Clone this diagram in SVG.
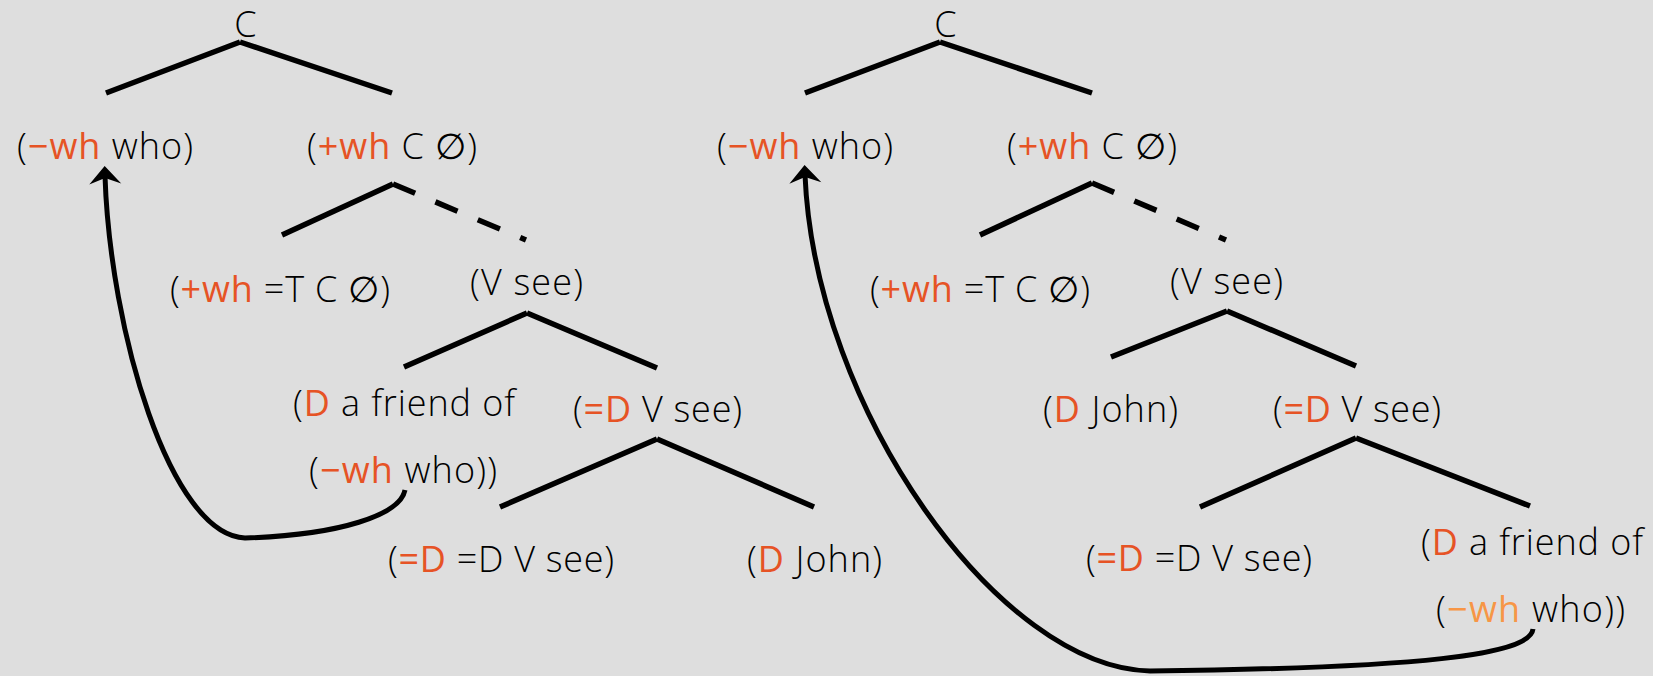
<svg xmlns="http://www.w3.org/2000/svg" width="1653" height="676" viewBox="0 0 1653 676">
<style>
text{font-family:"Open Sans","Liberation Sans",sans-serif;font-size:36px;font-weight:300;fill:#000;text-anchor:middle}
.o{fill:#E65325;font-weight:400}
.o2{fill:#F79646;font-weight:400}
.br{stroke:#000;stroke-width:5.5;fill:none;stroke-linecap:butt}
.dash{stroke-dasharray:24 22}
.arr{stroke:#000;stroke-width:5;fill:none;marker-end:url(#ah)}
</style>
<defs>
<marker id="ah" markerUnits="userSpaceOnUse" viewBox="-10 -17 22 34" refX="0" refY="0" markerWidth="22" markerHeight="34" orient="auto">
<path d="M10,0 L-8,-16 L-2,0 L-8,16 Z" fill="#000"/>
</marker>
</defs>
<rect width="1653" height="676" fill="#DEDEDE"/>
<g id="connectors">
<path class="br" d="M240,42 L106,93 M240,42 L392,93"/>
<path class="br" d="M393,184 L282,235"/>
<path class="br dash" d="M393,184 L526,240"/>
<path class="br" d="M527,313 L404,367 M527,313 L657,368"/>
<path class="br" d="M657,439 L500,507 M657,439 L814,507"/>
<path class="arr" d="M405,490 C400,515 340,535 245,538 C170,535 110,330 105,176"/>
<path class="br" d="M940,42 L805,93 M940,42 L1092,93"/>
<path class="br" d="M1092,183 L980,235"/>
<path class="br dash" d="M1092,183 L1226,240"/>
<path class="br" d="M1227,311 L1111,357 M1227,311 L1356,366"/>
<path class="br" d="M1356,438 L1200,507 M1356,438 L1530,506"/>
<path class="arr" d="M1533,629 C1530,655 1420,668 1150,671 C1000,668 815,410 805,175"/>
</g>
<g id="L-C"><text x="245.5" y="37">C</text></g>
<g id="L-who"><text x="105" y="159" textLength="176" lengthAdjust="spacing">(<tspan class="o">−wh</tspan> who)</text></g>
<g id="L-C0"><text x="392" y="159" textLength="170" lengthAdjust="spacing">(<tspan class="o">+wh</tspan> C ∅)</text></g>
<g id="L-TC0"><text x="280" y="302" textLength="220" lengthAdjust="spacing">(<tspan class="o">+wh</tspan> =T C ∅)</text></g>
<g id="L-Vsee"><text x="526.5" y="295" textLength="113" lengthAdjust="spacing">(V see)</text></g>
<g id="L-friend"><text x="404" y="416" textLength="222" lengthAdjust="spacing">(<tspan class="o">D</tspan> a friend of</text><text x="403" y="483" textLength="188" lengthAdjust="spacing">(<tspan class="o">−wh</tspan> who))</text></g>
<g id="L-DVsee"><text x="657.5" y="422" textLength="169" lengthAdjust="spacing">(<tspan class="o">=D</tspan> V see)</text></g>
<g id="L-DDVsee"><text x="501" y="572" textLength="226" lengthAdjust="spacing">(<tspan class="o">=D</tspan> =D V see)</text></g>
<g id="L-John"><text x="814.5" y="572" textLength="135" lengthAdjust="spacing">(<tspan class="o">D</tspan> John)</text></g>
<g id="R-C"><text x="945.5" y="37">C</text></g>
<g id="R-who"><text x="805" y="159" textLength="176" lengthAdjust="spacing">(<tspan class="o">−wh</tspan> who)</text></g>
<g id="R-C0"><text x="1092" y="159" textLength="170" lengthAdjust="spacing">(<tspan class="o">+wh</tspan> C ∅)</text></g>
<g id="R-TC0"><text x="980" y="302" textLength="220" lengthAdjust="spacing">(<tspan class="o">+wh</tspan> =T C ∅)</text></g>
<g id="R-Vsee"><text x="1226.5" y="294" textLength="113" lengthAdjust="spacing">(V see)</text></g>
<g id="R-John"><text x="1110.5" y="422" textLength="135" lengthAdjust="spacing">(<tspan class="o">D</tspan> John)</text></g>
<g id="R-DVsee"><text x="1357" y="422" textLength="168" lengthAdjust="spacing">(<tspan class="o">=D</tspan> V see)</text></g>
<g id="R-DDVsee"><text x="1199" y="571" textLength="226" lengthAdjust="spacing">(<tspan class="o">=D</tspan> =D V see)</text></g>
<g id="R-friend"><text x="1532" y="555" textLength="222" lengthAdjust="spacing">(<tspan class="o">D</tspan> a friend of</text><text x="1530.5" y="622" textLength="189" lengthAdjust="spacing">(<tspan class="o2">−wh</tspan> who))</text></g>
</svg>
